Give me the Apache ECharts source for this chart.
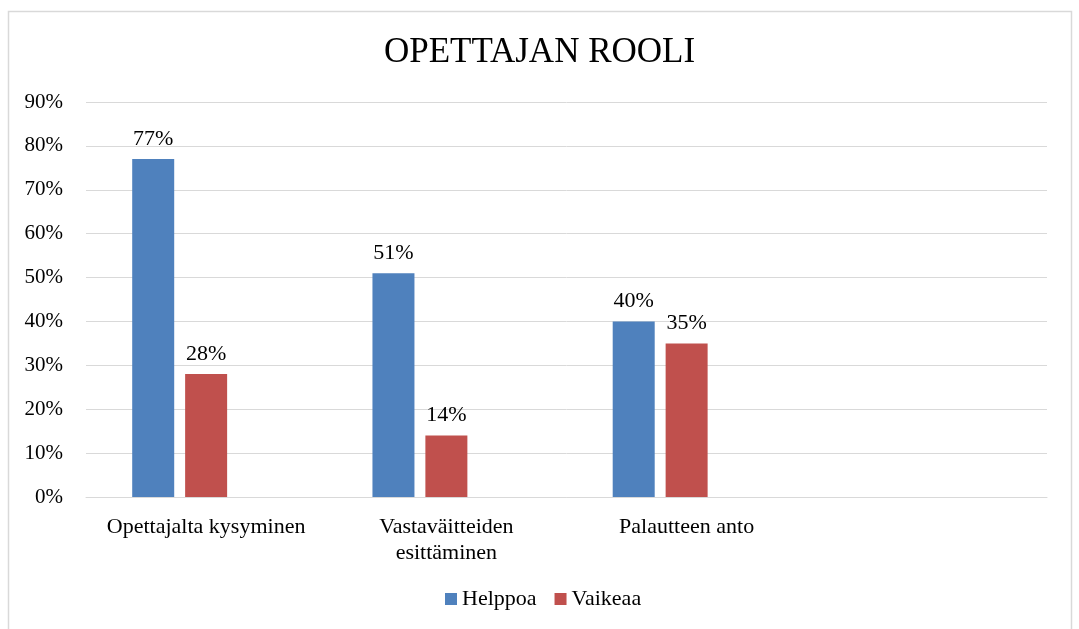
<!DOCTYPE html>
<html>
<head>
<meta charset="utf-8">
<script src="https://cdn.jsdelivr.net/npm/echarts@6/dist/echarts.min.js"></script>
<style>html,body{margin:0;padding:0;background:#fff}#c{width:1079px;height:629px}</style>
</head>
<body>
<div id="c"></div>
<script>
const categories = ['Opettajalta kysyminen', 'Vastaväitteiden\nesittäminen', 'Palautteen anto', ''];
const helppoa = [77, 51, 40, null];
const vaikeaa = [28, 14, 35, null];
const empty = [null, null, null, null];
const yTicks = [0, 10, 20, 30, 40, 50, 60, 70, 80, 90];
const FONT = '"Liberation Serif", "Times New Roman", serif';

const chart = echarts.init(document.getElementById('c'));
const labelCfg = {show: true, position: 'top', distance: 9, formatter: p => p.value + '%', fontFamily: FONT, fontSize: 22, color: '#000'};
chart.setOption({
  animation: false,
  graphic: [{type: 'rect', shape: {x: 8.5, y: 11.5, width: 1063, height: 640}, style: {fill: 'none', stroke: '#D9D9D9', lineWidth: 1.5}}],
  title: {text: 'OPETTAJAN ROOLI', left: 'center', top: 30, textStyle: {fontFamily: FONT, fontSize: 35, fontWeight: 'normal', color: '#000'}},
  legend: {data: ['Helppoa', 'Vaikeaa'], top: 583, left: 440, itemWidth: 12, itemHeight: 12, itemGap: 18, icon: 'rect',
    textStyle: {fontFamily: FONT, fontSize: 22, color: '#000', padding: [0, 0, 0, 0]}},
  grid: {left: 86, right: 32, top: 102, bottom: 132, containLabel: false},
  xAxis: {type: 'category', data: categories,
    axisLine: {lineStyle: {color: '#D9D9D9', width: 1}}, axisTick: {show: false},
    axisLabel: {interval: 0, fontFamily: FONT, fontSize: 22, color: '#000', margin: 17, lineHeight: 26}},
  yAxis: {type: 'value', min: yTicks[0], max: yTicks[yTicks.length - 1], interval: 10,
    axisLine: {show: false}, axisTick: {show: false},
    axisLabel: {fontFamily: FONT, fontSize: 21, color: '#000', margin: 23, formatter: v => v + '%'},
    splitLine: {lineStyle: {color: '#D9D9D9', width: 1}}},
  series: [
    {name: 'Helppoa', type: 'bar', data: helppoa, barWidth: 42, barGap: '26%', itemStyle: {color: '#4F81BD'}, label: labelCfg},
    {name: 'Vaikeaa', type: 'bar', data: vaikeaa, barWidth: 42, barGap: '26%', itemStyle: {color: '#C0504D'}, label: labelCfg},
    {name: 'Sarja3', type: 'bar', data: empty, barWidth: 42, barGap: '26%', itemStyle: {color: '#9BBB59'}}
  ]
});
</script>
</body>
</html>
